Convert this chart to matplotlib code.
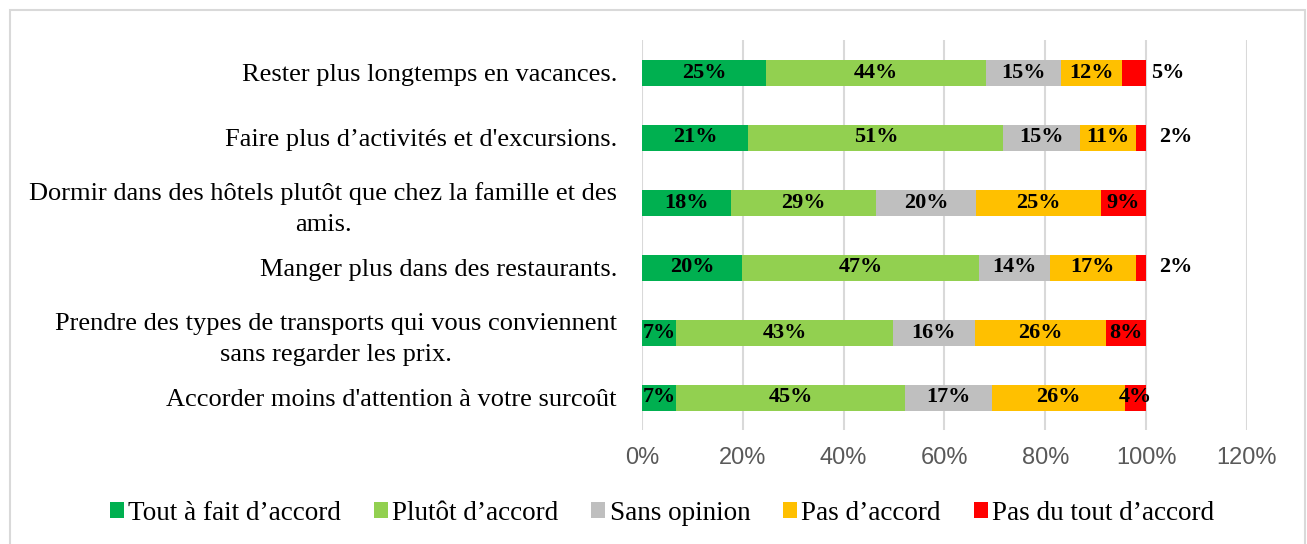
import matplotlib
matplotlib.use("Agg")
import matplotlib.pyplot as plt
from matplotlib.patches import Patch, Rectangle
import numpy as np

categories = [
    "Rester plus longtemps en vacances.",
    "Faire plus d’activités et d'excursions.",
    "Dormir dans des hôtels plutôt que chez la famille et des\namis.",
    "Manger plus dans des restaurants.",
    "Prendre des types de transports qui vous conviennent\nsans regarder les prix.",
    "Accorder moins d'attention à votre surcoût",
]
series_names = ["Tout à fait d’accord", "Plutôt d’accord", "Sans opinion",
                "Pas d’accord", "Pas du tout d’accord"]
tout_a_fait = [24.6, 21.1, 17.7, 19.8, 6.8, 6.8]
plutot = [43.6, 50.6, 28.7, 47.1, 43.0, 45.4]
sans_opinion = [15.0, 15.2, 19.9, 14.0, 16.2, 17.2]
pas_accord = [12.0, 11.0, 24.7, 17.0, 26.0, 26.4]
pas_du_tout = [4.8, 2.1, 9.0, 2.1, 8.0, 4.2]
colors = ["#00B050", "#92D050", "#BFBFBF", "#FFC000", "#FF0000"]
xticks = [0, 20, 40, 60, 80, 100, 120]

series = [tout_a_fait, plutot, sans_opinion, pas_accord, pas_du_tout]

fig = plt.figure(figsize=(13.07, 5.44), dpi=100)
W, H = 1307, 544
ax = fig.add_axes([642 / W, 1 - 430 / H, (1247 - 642) / W, (430 - 40) / H])

y = np.arange(len(categories))
left = np.zeros(len(categories))
serif = "Liberation Serif"
outside = {(0, 4): 104.3, (1, 4): 105.8, (3, 4): 105.8}
for si, (vals, c, name) in enumerate(zip(series, colors, series_names)):
    vals = np.array(vals)
    ax.barh(y, vals / 100, left=left / 100, height=0.4, color=c, label=name, zorder=3)
    for ri, v in enumerate(vals):
        xc = (left[ri] + v / 2) / 100
        if (ri, si) in outside:
            xc = outside[(ri, si)] / 100
        ax.text(xc, y[ri], f"{int(v + 0.5):d}%", ha="center", va="center",
                fontfamily=serif, fontweight="bold", fontsize=16, color="black", zorder=4)
    left = left + vals

ax.set_xlim(0, 1.2)
ax.set_ylim(len(categories) - 0.5, -0.5)
ax.set_xticks([t / 100 for t in xticks])
ax.set_xticklabels([f"{t}%" for t in xticks], fontfamily="Liberation Sans",
                   fontsize=17, color="#595959")
ax.set_yticks(y)
ax.set_yticklabels(categories, fontfamily=serif, fontsize=19, color="black",
                   multialignment="center", linespacing=1.5)
ax.tick_params(axis="both", length=0)
ax.tick_params(axis="y", pad=18)
ax.tick_params(axis="x", pad=12)
ax.grid(axis="x", color="#D9D9D9", linewidth=1.5, zorder=0)
for s in ax.spines.values():
    s.set_visible(False)

handles = [Patch(facecolor=c, edgecolor="none") for c in colors]
fig.legend(handles, series_names, loc="center", bbox_to_anchor=(662 / W, 1 - 513 / H),
           ncol=5, frameon=False, prop={"family": serif, "size": 19.5},
           handlelength=0.52, handleheight=0.52, handletextpad=0.15, columnspacing=1.22)

fig.patches.append(Rectangle((9.5 / W, -0.1), (1305 - 9.5) / W, 1.1 - 10 / H,
                             transform=fig.transFigure, fill=False,
                             edgecolor="#D9D9D9", linewidth=1.5))
fig.savefig("out.png", dpi=100, facecolor="white")
